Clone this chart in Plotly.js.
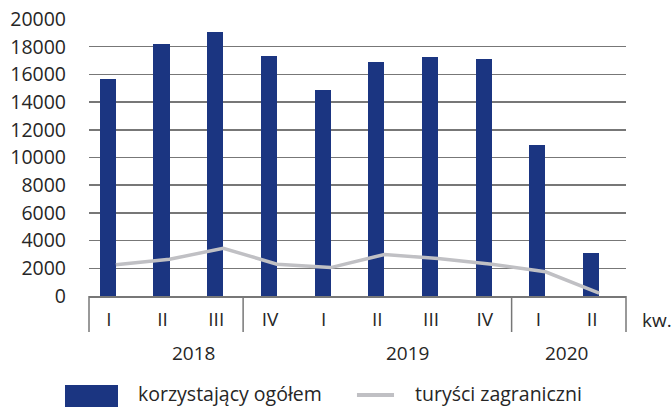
<!DOCTYPE html>
<html>
<head>
<meta charset="utf-8">
<script src="https://cdn.plot.ly/plotly-3.0.1.min.js"></script>
<style>
  html, body { margin: 0; padding: 0; background: #ffffff; }
  #chart { width: 671px; height: 407px; }
</style>
</head>
<body>
<div id="chart"></div>
<script>
// ---- data ----
var quarters = ['I', 'II', 'III', 'IV', 'I', 'II', 'III', 'IV', 'I', 'II'];
var years = ['2018', '2019', '2020'];
var totalUsers = [15700, 18200, 19050, 17300, 14900, 16900, 17250, 17100, 10900, 3100];
var foreignTourists = [2250, 2650, 3450, 2300, 2050, 3000, 2700, 2300, 1750, 200];
var seriesNames = ['korzystający ogółem', 'turyści zagraniczni'];
var unitLabel = 'kw.';
var yTicks = [0, 2000, 4000, 6000, 8000, 10000, 12000, 14000, 16000, 18000, 20000];

// ---- layout helpers ----
var navy = '#1b3581';
var lightGray = '#c0c0c4';
var gridGray = '#777777';
var textColor = '#262626';
var fontFamily = '"Open Sans", "Noto Sans", sans-serif';

var idx = quarters.map(function (_, i) { return i; });
var labelShift = -0.13;
var yearPos = [1.44, 5.44, 8.40];
var groupSeparators = [2.5 + labelShift, 7.5 + labelShift];

var traces = [
  {
    type: 'bar',
    x: idx,
    y: totalUsers,
    width: 0.3,
    offset: -0.3,
    marker: { color: navy, line: { width: 0 } },
    name: seriesNames[0],
    showlegend: false,
    hoverinfo: 'y'
  },
  {
    type: 'scatter',
    mode: 'lines',
    x: idx,
    y: foreignTourists,
    line: { color: lightGray, width: 3.5 },
    name: seriesNames[1],
    showlegend: false,
    cliponaxis: false,
    hoverinfo: 'y'
  }
];

var shapes = [];
var sepBottom = -0.13;
shapes.push({ type: 'line', xref: 'paper', yref: 'paper', x0: 0, x1: 0, y0: 0, y1: sepBottom, line: { color: gridGray, width: 1.5 } });
shapes.push({ type: 'line', xref: 'paper', yref: 'paper', x0: 1, x1: 1, y0: 0, y1: sepBottom, line: { color: gridGray, width: 1.5 } });
groupSeparators.forEach(function (s) {
  shapes.push({ type: 'line', xref: 'x', yref: 'paper', x0: s, x1: s, y0: 0, y1: sepBottom, line: { color: gridGray, width: 1.5 } });
});
// legend symbols
shapes.push({ type: 'rect', xref: 'paper', yref: 'paper', x0: -0.0447, x1: 0.054, y0: -0.45, y1: -0.321, fillcolor: navy, line: { width: 0 } });
shapes.push({ type: 'line', xref: 'paper', yref: 'paper', x0: 0.499, x1: 0.568, y0: -0.357, y1: -0.357, line: { color: lightGray, width: 4 } });

var annotations = [];
years.forEach(function (yr, i) {
  annotations.push({
    text: yr, xref: 'x', yref: 'paper', x: yearPos[i], y: -0.206,
    xanchor: 'center', yanchor: 'middle', showarrow: false,
    font: { family: fontFamily, size: 19, color: textColor }
  });
});
annotations.push({
  text: unitLabel, xref: 'paper', yref: 'paper', x: 1.026, y: -0.085,
  xanchor: 'left', yanchor: 'middle', showarrow: false,
  font: { family: fontFamily, size: 19, color: textColor }
});
annotations.push({
  text: seriesNames[0], xref: 'paper', yref: 'paper', x: 0.0875, y: -0.352,
  xanchor: 'left', yanchor: 'middle', showarrow: false,
  font: { family: fontFamily, size: 19.5, color: textColor }
});
annotations.push({
  text: seriesNames[1], xref: 'paper', yref: 'paper', x: 0.603, y: -0.352,
  xanchor: 'left', yanchor: 'middle', showarrow: false,
  font: { family: fontFamily, size: 19.5, color: textColor }
});

var layout = {
  width: 671,
  height: 407,
  margin: { l: 89, r: 45, t: 19, b: 111, pad: 0 },
  paper_bgcolor: '#ffffff',
  plot_bgcolor: '#ffffff',
  font: { family: fontFamily, size: 19, color: textColor },
  showlegend: false,
  bargap: 0,
  xaxis: {
    range: [-0.5, 9.5],
    tickmode: 'array',
    tickvals: idx.map(function (i) { return i + labelShift; }),
    ticktext: quarters,
    ticks: '',
    showgrid: false,
    zeroline: false,
    showline: true,
    linecolor: gridGray,
    linewidth: 1.5,
    ticklabelstandoff: 6,
    tickfont: { family: fontFamily, size: 19, color: textColor },
    fixedrange: true
  },
  yaxis: {
    range: [0, 20000],
    tickmode: 'array',
    tickvals: yTicks,
    ticktext: yTicks.map(function (v) { return String(v); }),
    ticks: '',
    showgrid: true,
    gridcolor: gridGray,
    gridwidth: 1.5,
    zeroline: false,
    showline: false,
    ticklabelstandoff: 22,
    tickfont: { family: fontFamily, size: 19.5, color: textColor },
    fixedrange: true
  },
  shapes: shapes,
  annotations: annotations
};

Plotly.newPlot('chart', traces, layout, { staticPlot: true, displayModeBar: false });
</script>
</body>
</html>
